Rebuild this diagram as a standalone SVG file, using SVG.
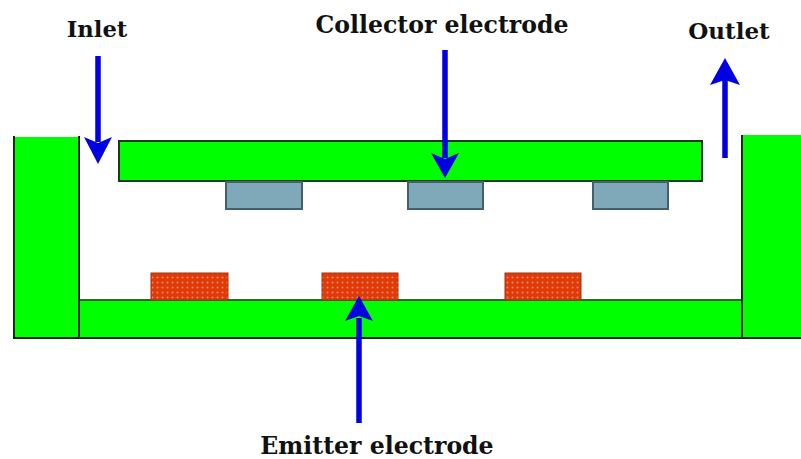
<svg xmlns="http://www.w3.org/2000/svg" width="801" height="459" viewBox="0 0 801 459">
<style>
.g{fill:#00ff00;stroke:#143c14;stroke-width:2}
.f{fill:#00ff00}
.k{fill:none;stroke:#0a2a0a;stroke-width:2}
.c{fill:#7fa8b8;stroke:#44606e;stroke-width:2}
.e{fill:url(#dots);stroke:#a03010;stroke-width:1}
.a{stroke:#0000e0;stroke-width:5.5;fill:none}
.h{fill:#0000e0}
text{font-family:"DejaVu Serif","Liberation Serif",serif;font-weight:bold;font-size:23.6px;fill:#111;text-anchor:middle}
</style>
<defs>
<pattern id="dots" width="5" height="5" patternUnits="userSpaceOnUse">
<rect width="5" height="5" fill="#e03a08"/>
<circle cx="2.5" cy="2.5" r="1" fill="#f08a60"/>
</pattern>
</defs>
<rect width="801" height="459" fill="#fff"/>
<g id="base-plate"><rect class="f" x="79" y="300" width="663" height="38"/><path d="M79 300H742" fill="none" stroke="#2c6a2c" stroke-width="2"/><path class="k" d="M79 338H742"/></g>
<g id="left-wall"><rect class="f" x="14" y="137" width="65" height="201"/><path class="k" d="M14 136V338H79V136"/></g>
<g id="right-wall"><rect class="f" x="742" y="135" width="59" height="203"/><path class="k" d="M742 135V338H801"/></g>
<g id="collector-plate"><rect class="g" x="119" y="141" width="583" height="40"/></g>
<g id="collector-1"><rect class="c" x="226" y="182" width="76" height="27"/></g>
<g id="collector-2"><rect class="c" x="408" y="182" width="75" height="27"/></g>
<g id="collector-3"><rect class="c" x="593" y="182" width="75" height="27"/></g>
<g id="emitter-1"><rect class="e" x="151" y="273" width="77" height="27"/></g>
<g id="emitter-2"><rect class="e" x="322" y="273" width="76" height="27"/></g>
<g id="emitter-3"><rect class="e" x="505" y="273" width="76" height="27"/></g>
<g id="connectors">
<path class="a" d="M98 56V142"/><path class="h" d="M84 137L98 143L112 137L98 164Z"/>
<path class="a" d="M445 50V158"/><path class="h" d="M431 153L445 159L459 153L445 178Z"/>
<path class="a" d="M725 158V80"/><path class="h" d="M710 85L725 80L740 85L725 58Z"/>
<path class="a" d="M359 423V318"/><path class="h" d="M345 321L359 316L373 321L359 296Z"/>
</g>
<g id="labels">
<text x="97" y="37" style="font-size:22.7px">Inlet</text>
<text x="442" y="33">Collector electrode</text>
<text x="729" y="39" style="font-size:23px">Outlet</text>
<text x="377" y="454">Emitter electrode</text>
</g>
</svg>
